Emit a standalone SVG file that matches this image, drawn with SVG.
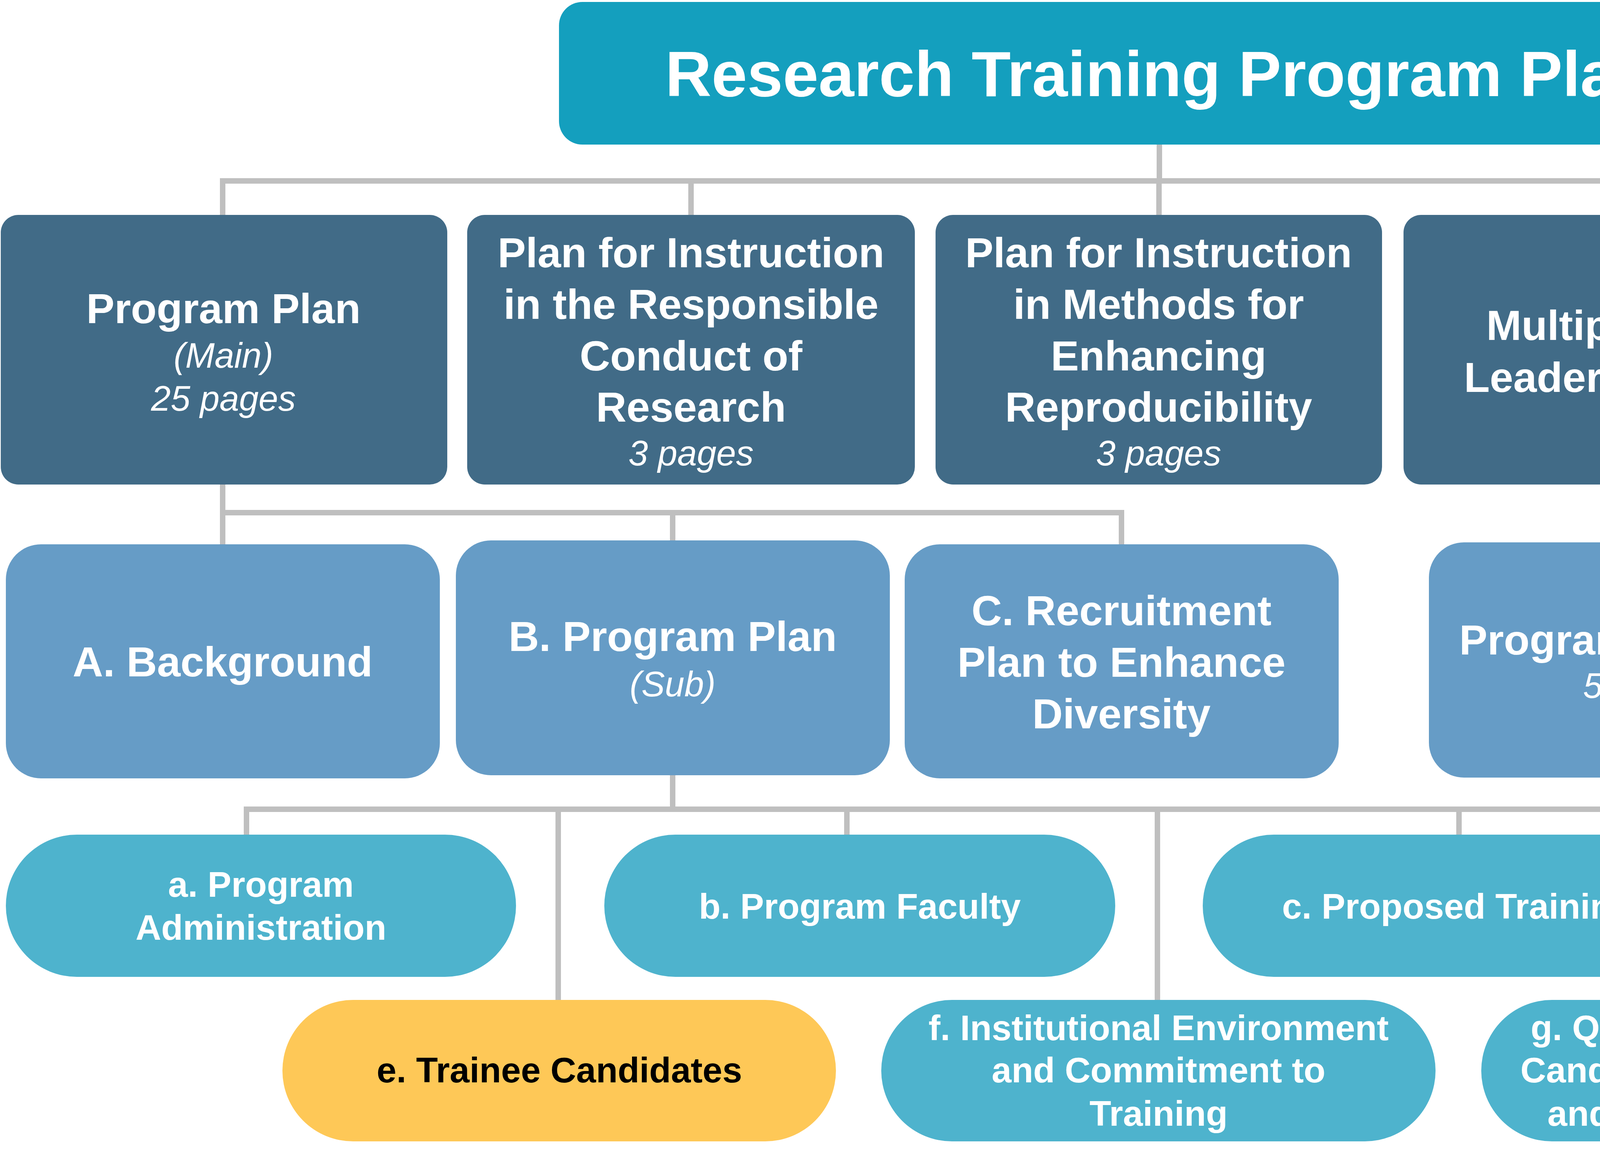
<svg xmlns="http://www.w3.org/2000/svg" width="5943" height="2961" viewBox="0 0 5943 2961">
<style>
.t{font-family:"Liberation Sans",Arial,sans-serif;fill:#fff;text-anchor:middle}
.b1{font-weight:bold;font-size:164px}
.b2{font-weight:bold;font-size:108px}
.b4{font-weight:bold;font-size:91px}
.i2{font-style:italic;font-size:90px}
.l1{fill:#149FBE}
.l2{fill:#416B87}
.l3{fill:#669CC6}
.l4{fill:#4EB3CD}
.y{fill:#FEC857}
.con{stroke:#BFBFBF;stroke-width:14;fill:none}
</style>
<rect width="5943" height="2961" fill="#fff"/>
<g id="connectors" class="con">
<path d="M2968,370 V463"/>
<path d="M570,550 V463 H5359 V550"/>
<path d="M1769,463 V550 M2967,463 V550 M4166,463 V550"/>
<path d="M570,1240 V1393"/>
<path d="M570,1312 H2871 V1393"/>
<path d="M1722,1312 V1383"/>
<path d="M5359,1240 V1388"/>
<path d="M4211,1388 V1312 H5359"/>
<path d="M1722,1984 V2071"/>
<path d="M631,2136 V2071 H5321 V2136"/>
<path d="M2168,2071 V2136 M3735,2071 V2136"/>
<path d="M1429,2071 V2559 M2963,2071 V2559 M4499,2071 V2559"/>
</g>
<g id="n-root">
<rect class="l1" x="1431" y="5" width="3077" height="365" rx="60"/>
<text class="t b1" x="2970" y="246">Research Training Program Plan</text>
</g>
<g id="n-program-plan">
<rect class="l2" x="2" y="550" width="1143" height="690" rx="45"/>
<text class="t b2" x="572" y="827">Program Plan</text>
<text class="t i2" x="572" y="941">(Main)</text>
<text class="t i2" x="572" y="1051">25 pages</text>
</g>
<g id="n-rcr">
<rect class="l2" x="1196" y="550" width="1146" height="690" rx="45"/>
<text class="t b2" x="1769" y="684">Plan for Instruction</text>
<text class="t b2" x="1769" y="816">in the Responsible</text>
<text class="t b2" x="1769" y="948">Conduct of</text>
<text class="t b2" x="1769" y="1079">Research</text>
<text class="t i2" x="1769" y="1191">3 pages</text>
</g>
<g id="n-reproducibility">
<rect class="l2" x="2395" y="550" width="1143" height="690" rx="45"/>
<text class="t b2" x="2966" y="684">Plan for Instruction</text>
<text class="t b2" x="2966" y="816">in Methods for</text>
<text class="t b2" x="2966" y="948">Enhancing</text>
<text class="t b2" x="2966" y="1079">Reproducibility</text>
<text class="t i2" x="2966" y="1191">3 pages</text>
</g>
<g id="n-leadership">
<rect class="l2" x="3593" y="550" width="1143" height="690" rx="45"/>
<text class="t b2" x="4165" y="870">Multiple PD/PI</text>
<text class="t b2" x="4165" y="1003">Leadership Plan</text>
</g>
<g id="n-progress-report">
<rect class="l2" x="4789" y="550" width="1144" height="690" rx="45"/>
<text class="t b2" x="5361" y="880">Progress Report</text>
<text class="t i2" x="5361" y="995">(if applicable)</text>
</g>
<g id="n-background">
<rect class="l3" x="15" y="1393" width="1111" height="599" rx="90"/>
<text class="t b2" x="570" y="1731">A. Background</text>
</g>
<g id="n-program-plan-sub">
<rect class="l3" x="1167" y="1383" width="1111" height="601" rx="90"/>
<text class="t b2" x="1722" y="1666">B. Program Plan</text>
<text class="t i2" x="1722" y="1782">(Sub)</text>
</g>
<g id="n-recruitment">
<rect class="l3" x="2316" y="1393" width="1111" height="599" rx="90"/>
<text class="t b2" x="2871" y="1600">C. Recruitment</text>
<text class="t b2" x="2871" y="1732">Plan to Enhance</text>
<text class="t b2" x="2871" y="1864">Diversity</text>
</g>
<g id="n-program-overview">
<rect class="l3" x="3658" y="1388" width="1111" height="602" rx="90"/>
<text class="t b2" x="4213" y="1675">Program Overview</text>
<text class="t i2" x="4213" y="1786">5 pages</text>
</g>
<g id="n-progress-appointed">
<rect class="l3" x="4808" y="1388" width="1111" height="602" rx="90"/>
<text class="t b2" x="5363" y="1539">Progress of Those</text>
<text class="t b2" x="5363" y="1672">Appointed to the</text>
<text class="t b2" x="5363" y="1806">Grant</text>
<text class="t i2" x="5363" y="1917">1 page per appointee</text>
</g>
<g id="n-a">
<rect class="l4" x="15" y="2136" width="1306" height="364" rx="182"/>
<text class="t b4" x="668" y="2295">a. Program</text>
<text class="t b4" x="668" y="2405">Administration</text>
</g>
<g id="n-b">
<rect class="l4" x="1547" y="2136" width="1308" height="364" rx="182"/>
<text class="t b4" x="2201" y="2351">b. Program Faculty</text>
</g>
<g id="n-c">
<rect class="l4" x="3079" y="2136" width="1307" height="364" rx="182"/>
<text class="t b4" x="3732" y="2351">c. Proposed Training</text>
</g>
<g id="n-d">
<rect class="l4" x="4610" y="2136" width="1309" height="364" rx="182"/>
<text class="t b4" x="5264" y="2295">d. Training Program</text>
<text class="t b4" x="5264" y="2405">Evaluation</text>
</g>
<g id="n-e">
<rect class="y" x="723" y="2559" width="1417" height="362" rx="181"/>
<text class="t b4" x="1432" y="2770" style="fill:#000">e. Trainee Candidates</text>
</g>
<g id="n-f">
<rect class="l4" x="2256" y="2559" width="1419" height="362" rx="181"/>
<text class="t b4" x="2966" y="2662">f. Institutional Environment</text>
<text class="t b4" x="2966" y="2770">and Commitment to</text>
<text class="t b4" x="2966" y="2881">Training</text>
</g>
<g id="n-g">
<rect class="l4" x="3792" y="2559" width="1416" height="362" rx="181"/>
<text class="t b4" x="4500" y="2662">g. Qualifications of Trainee</text>
<text class="t b4" x="4500" y="2770">Candidates and Admissions</text>
<text class="t b4" x="4500" y="2881">and Completion Records</text>
</g>
</svg>
